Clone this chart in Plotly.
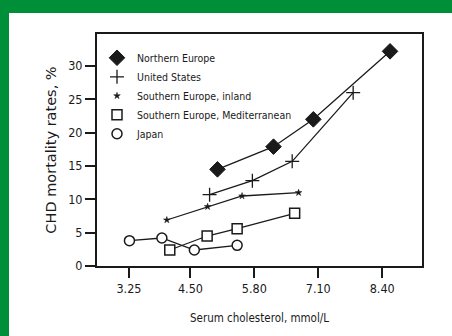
import plotly.graph_objects as go

# Data
ne_x = [5.05, 6.19, 7.00, 8.56]
ne_y = [14.5, 17.9, 22.0, 32.2]
us_x = [4.89, 5.76, 6.57, 7.81]
us_y = [10.7, 12.8, 15.7, 26.0]
si_x = [4.02, 4.85, 5.55, 6.70]
si_y = [6.9, 8.9, 10.5, 11.0]
sm_x = [4.08, 4.84, 5.45, 6.62]
sm_y = [2.4, 4.5, 5.6, 7.9]
jp_x = [3.26, 3.92, 4.58, 5.45]
jp_y = [3.8, 4.2, 2.4, 3.1]

x_ticks = [3.25, 4.50, 5.80, 7.10, 8.40]
x_tick_labels = ["3.25", "4.50", "5.80", "7.10", "8.40"]
y_ticks = [0, 5, 10, 15, 20, 25, 30]

names = ["Northern Europe", "United States", "Southern Europe, inland",
         "Southern Europe, Mediterranean", "Japan"]

FONT = "DejaVu Sans Condensed, Liberation Sans Narrow, sans-serif"
INK = "#1a1a1a"
GREEN = "#008f39"

series = [
    (ne_x, ne_y, dict(symbol="diamond", size=12, color=INK, line=dict(color=INK, width=1))),
    (us_x, us_y, dict(symbol="cross-thin", size=10, color=INK, line=dict(color=INK, width=1.3))),
    (si_x, si_y, dict(symbol="star", size=5, color=INK, line=dict(color=INK, width=0.5))),
    (sm_x, sm_y, dict(symbol="square", size=10, color="white", line=dict(color=INK, width=1.5))),
    (jp_x, jp_y, dict(symbol="circle", size=10, color="white", line=dict(color=INK, width=1.5))),
]

fig = go.Figure()
for (xs, ys, mk), nm in zip(series, names):
    fig.add_trace(go.Scatter(x=xs, y=ys, mode="lines+markers", name=nm,
                             line=dict(color=INK, width=1.3), marker=mk,
                             showlegend=False, cliponaxis=False))
for (xs, ys, mk), nm in zip(series, names):
    fig.add_trace(go.Scatter(x=[None], y=[None], mode="markers", name=nm,
                             marker=mk, showlegend=True))

L, R, T, B = 97, 30, 34, 70
W, H = 452, 336
pw = W - L - R
ph = H - T - B

fig.update_layout(
    width=W, height=H,
    margin=dict(l=L, r=R, t=T, b=B, pad=0),
    paper_bgcolor="white",
    plot_bgcolor="white",
    font=dict(family=FONT, size=12, color=INK),
    shapes=[
        # top green band
        dict(type="rect", xref="paper", yref="paper", layer="below",
             x0=-L / pw - 0.05, x1=(W - L) / pw + 0.05,
             y0=((H - B) - 13) / ph, y1=(H - B) / ph + 0.05,
             fillcolor=GREEN, line=dict(width=0)),
        # left green band
        dict(type="rect", xref="paper", yref="paper", layer="below",
             x0=-L / pw - 0.05, x1=(9 - L) / pw,
             y0=-B / ph - 0.05, y1=(H - B) / ph + 0.05,
             fillcolor=GREEN, line=dict(width=0)),
    ],
    legend=dict(x=0.0, y=0.96, xanchor="left", yanchor="top",
                bgcolor="rgba(0,0,0,0)", font=dict(size=10.5, family=FONT),
                tracegroupgap=0, itemsizing="trace"),
    xaxis=dict(range=[2.60, 9.21], tickvals=x_ticks, ticktext=x_tick_labels,
               showgrid=False, zeroline=False, showline=True, mirror=True,
               linecolor=INK, linewidth=2, ticks="outside", ticklen=10,
               tickwidth=1.5, tickcolor=INK, tickfont=dict(size=12.5),
               title=dict(text="Serum cholesterol, mmol/L",
                          font=dict(size=11.5), standoff=19)),
    yaxis=dict(range=[0, 34.8], tickvals=y_ticks,
               showgrid=False, zeroline=False, showline=True, mirror=True,
               linecolor=INK, linewidth=2, ticks="outside", ticklen=10,
               tickwidth=1.5, tickcolor=INK, tickfont=dict(size=12.5),
               title=dict(text="CHD mortality rates, %",
                          font=dict(size=14.5, family="DejaVu Sans, sans-serif"),
                          standoff=8)),
)

fig.write_html("out.html")
